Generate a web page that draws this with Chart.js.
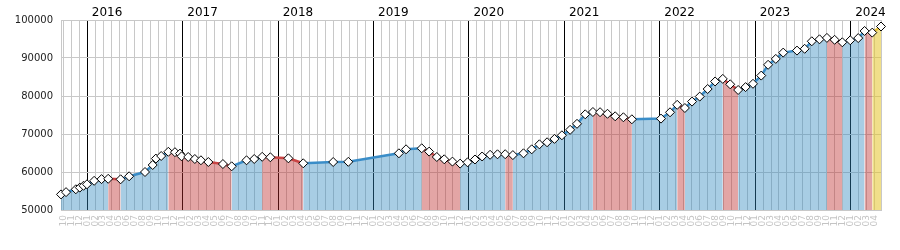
<!DOCTYPE html>
<html>
<head>
<meta charset="utf-8">
<script src="https://cdn.jsdelivr.net/npm/chart.js@4.4.1/dist/chart.umd.min.js"></script>
<style>
  html, body { margin: 0; padding: 0; background: #fff; }
  #wrap { width: 900px; height: 250px; position: relative; }
</style>
</head>
<body>
<div id="wrap"><canvas id="chart"></canvas></div>
<script>
// readings (date, value)
const dates = [
  "2015-09-22", "2015-10-11", "2015-11-18", "2015-12-03", "2015-12-17", "2015-12-30",
  "2016-01-27", "2016-02-25", "2016-03-20", "2016-05-07", "2016-06-09", "2016-08-09",
  "2016-09-08", "2016-09-20", "2016-10-10", "2016-11-07", "2016-12-02", "2016-12-21",
  "2016-12-27", "2017-01-22", "2017-02-17", "2017-03-10", "2017-04-08", "2017-06-03",
  "2017-07-06", "2017-09-02", "2017-10-01", "2017-11-01", "2017-12-02", "2018-02-10",
  "2018-04-06", "2018-07-29", "2018-09-26", "2019-04-07", "2019-05-04", "2019-07-03",
  "2019-07-31", "2019-08-30", "2019-09-28", "2019-10-29", "2019-11-28", "2019-12-26",
  "2020-01-24", "2020-02-21", "2020-03-21", "2020-04-19", "2020-05-18", "2020-06-17",
  "2020-07-27", "2020-08-28", "2020-09-27", "2020-10-26", "2020-11-24", "2020-12-22",
  "2021-01-23", "2021-02-19", "2021-03-20", "2021-04-19", "2021-05-16", "2021-06-14",
  "2021-07-13", "2021-08-14", "2021-09-16", "2022-01-06", "2022-02-10", "2022-03-07",
  "2022-04-06", "2022-05-03", "2022-06-02", "2022-07-02", "2022-07-30", "2022-08-29",
  "2022-09-27", "2022-10-27", "2022-11-25", "2022-12-23", "2023-01-24", "2023-02-20",
  "2023-03-19", "2023-04-17", "2023-06-09", "2023-07-08", "2023-08-05", "2023-09-04",
  "2023-10-02", "2023-11-01", "2023-11-30", "2023-12-30", "2024-01-30", "2024-02-24",
  "2024-03-23", "2024-04-26"
];
const values = [
  54100, 54700, 55450, 55900, 56370, 56760,
  57680, 58130, 58210, 58080, 58870, 60000,
  61840, 63530, 64210, 65320, 65210, 64840,
  64130, 63950, 63420, 63080, 62630, 62100,
  61500, 63080, 63420, 64000, 63870, 63600,
  62290, 62630, 62680, 64920, 65970, 66240,
  65370, 63950, 63340, 62740, 62210, 62550,
  63290, 64080, 64530, 64660, 64680, 64450,
  64920, 65970, 67290, 67820, 68710, 69660,
  71100, 72680, 75180, 75790, 75740, 75320,
  74660, 74400, 73870, 74050, 75710, 77680,
  76840, 78530, 79840, 81840, 83820, 84500,
  83080, 81580, 82340, 83210, 85370, 88210,
  89760, 91420, 91950, 92420, 94400, 94920,
  95290, 94790, 94130, 94660, 95240, 97110,
  96680, 98290
];
const years = [2016, 2017, 2018, 2019, 2020, 2021, 2022, 2023, 2024];

const FONT = "DejaVu Sans";
const lineColors = ["#3a8dc8", "#c94545", "#e6c23a"];
const fillColors = ["rgba(48,136,191,0.42)", "rgba(188,41,41,0.42)", "rgba(228,197,42,0.55)"];

// months since Jan 2015
function monthPos(d) {
  const [y, m, day] = d.split("-").map(Number);
  return (y - 2015) * 12 + (m - 1) + (day - 1) / 30;
}

const points = dates.map((d, i) => ({ x: monthPos(d), y: values[i] }));
const xMin = points[0].x;
const xMax = points[points.length - 1].x;

const monthTicks = [];
for (let m = Math.ceil(xMin); m <= Math.floor(xMax); m++) monthTicks.push(m);

// 0 = up, 1 = down, 2 = latest
function segKind(c) {
  if (c.p1DataIndex === values.length - 1) return 2;
  return c.p1.parsed.y < c.p0.parsed.y ? 1 : 0;
}

new Chart(document.getElementById("chart"), {
  type: "line",
  data: {
    datasets: [{
      data: points,
      borderColor: lineColors[0],
      backgroundColor: fillColors[0],
      borderWidth: 2.5,
      fill: "start",
      tension: 0,
      clip: false,
      pointStyle: "rectRot",
      pointRadius: 4.5,
      pointBackgroundColor: "#fff",
      pointBorderColor: "#000",
      pointBorderWidth: 1,
      segment: {
        borderColor: c => lineColors[segKind(c)],
        backgroundColor: c => fillColors[segKind(c)]
      }
    }]
  },
  options: {
    responsive: true,
    maintainAspectRatio: false,
    animation: false,
    layout: { padding: 0 },
    plugins: { legend: { display: false }, tooltip: { enabled: false } },
    scales: {
      x: {
        type: "linear",
        position: "bottom",
        min: xMin,
        max: xMax,
        afterBuildTicks: s => { s.ticks = monthTicks.map(v => ({ value: v })); },
        afterFit: s => { s.height = 40; },
        ticks: {
          autoSkip: false,
          minRotation: 90,
          maxRotation: 90,
          padding: 5,
          color: "#c4c4c4",
          font: { family: FONT, size: 9 },
          callback: v => String((((v % 12) + 12) % 12) + 1).padStart(2, "0")
        },
        grid: {
          drawTicks: false,
          color: c => (c.tick && c.tick.value % 12 === 0) ? "#000" : "#c8c8c8"
        },
        border: { color: "#c8c8c8" }
      },
      x2: {
        type: "linear",
        position: "top",
        min: xMin,
        max: xMax,
        afterBuildTicks: s => { s.ticks = years.map(y => ({ value: (y - 2015) * 12 + 2.5 })); },
        afterFit: s => { s.height = 20; },
        ticks: {
          autoSkip: false,
          maxRotation: 0,
          padding: 0,
          color: "#000",
          font: { family: FONT, size: 12 },
          callback: v => String(2015 + Math.floor(v / 12))
        },
        grid: { display: false, drawTicks: false },
        border: { display: false }
      },
      y: {
        min: 50000,
        max: 100000,
        afterFit: s => { s.width = 61; },
        ticks: {
          stepSize: 10000,
          padding: 8,
          color: "#222",
          font: { family: FONT, size: 10 },
          callback: v => String(v)
        },
        grid: { color: "#c8c8c8", drawTicks: false },
        border: { color: "#c8c8c8" }
      },
      y2: {
        position: "right",
        min: 50000,
        max: 100000,
        afterFit: s => { s.width = 19; },
        ticks: { display: false },
        grid: { display: false, drawTicks: false },
        border: { color: "#c8c8c8" }
      }
    }
  }
});
</script>
</body>
</html>
